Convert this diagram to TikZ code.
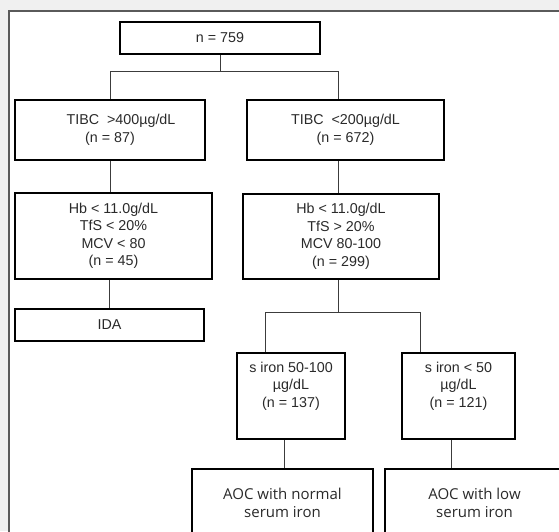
\documentclass[tikz,border=0pt]{standalone}
\usepackage{fontspec}
\setmainfont{Liberation Sans}
\newfontfamily\aocfont{Open Sans}
\definecolor{bgc}{HTML}{F0F0F0}
\definecolor{panelc}{HTML}{5A5A5A}
\definecolor{linec}{HTML}{3C3C3C}
\definecolor{textc}{HTML}{2A2A2A}
\begin{document}
\begin{tikzpicture}[x=1pt,y=-1pt,
  box/.style={draw=black,line width=2pt,align=center,inner sep=0pt,text=textc,
    font=\fontsize{14.3}{17.5}\selectfont},
  aocbox/.style={box,font=\aocfont\fontsize{15}{18}\selectfont},
  conn/.style={draw=linec,line width=1pt}]
\useasboundingbox (0,0) rectangle (559,531);
\clip (0,0) rectangle (559,531);
\fill[bgc] (0,0) rectangle (559,531);
\filldraw[fill=white,draw=panelc,line width=1.5pt] (9,11) rectangle (620,620);

\node[box,minimum width=200pt,minimum height=32pt] (root) at (220,38) {n = 759};
\node[box,minimum width=190pt,minimum height=60pt] (tl) at (110,130)
  {\hspace*{22pt}TIBC~ >400µg/dL\\(n = 87)};
\node[box,minimum width=197pt,minimum height=60pt] (tr) at (345.5,130)
  {TIBC~ <200µg/dL\\(n = 672)};
\node[box,minimum width=197pt,minimum height=86pt] (hl) at (113.5,236)
  {Hb < 11.0g/dL\\TfS < 20\%\\MCV < 80\\(n = 45)};
\node[box,minimum width=196pt,minimum height=85pt] (hr) at (341,236.5)
  {Hb < 11.0g/dL\\TfS > 20\%\\MCV 80-100\\(n = 299)};
\node[box,minimum width=189pt,minimum height=32pt] (ida) at (109.5,325) {IDA};
\node[box,minimum width=108pt,minimum height=86pt] (s1) at (291,396)
  {s iron 50-100\\µg/dL\\(n = 137)\\\strut};
\node[box,minimum width=113pt,minimum height=86pt] (s2) at (458.5,396)
  {s iron < 50\\µg/dL\\(n = 121)\\\strut};
\node[aocbox,minimum width=181pt,minimum height=68pt] (a1) at (282.5,503)
  {AOC with normal\\serum iron};
\node[aocbox,minimum width=179pt,minimum height=68pt] (a2) at (474.5,503)
  {AOC with low\\serum iron};

\coordinate (bL) at (110,71);
\coordinate (bR) at (338,71);
\draw[conn] (root.south) -- (root.south |- bL);
\draw[conn] (bL) -- (bR);
\draw[conn] (bL) -- (tl.north);
\draw[conn] (bR) -- (bR |- tr.north);
\draw[conn] (tl.south) -- (tl.south |- hl.north);
\draw[conn] (tr.south -| bR) -- (hr.north -| bR);
\draw[conn] (ida.north |- hl.south) -- (ida.north);
\coordinate (j2) at (338,312);
\coordinate (j2L) at (265,312);
\coordinate (j2R) at (420,312);
\draw[conn] (hr.south -| j2) -- (j2);
\draw[conn] (j2L) -- (j2R);
\draw[conn] (j2L) -- (j2L |- s1.north);
\draw[conn] (j2R) -- (j2R |- s2.north);
\draw[conn] ([xshift=-7pt]s1.south) -- ([xshift=-7pt]s1.south |- a1.north);
\draw[conn] ([xshift=-7.5pt]s2.south) -- ([xshift=-7.5pt]s2.south |- a2.north);
\end{tikzpicture}
\end{document}
